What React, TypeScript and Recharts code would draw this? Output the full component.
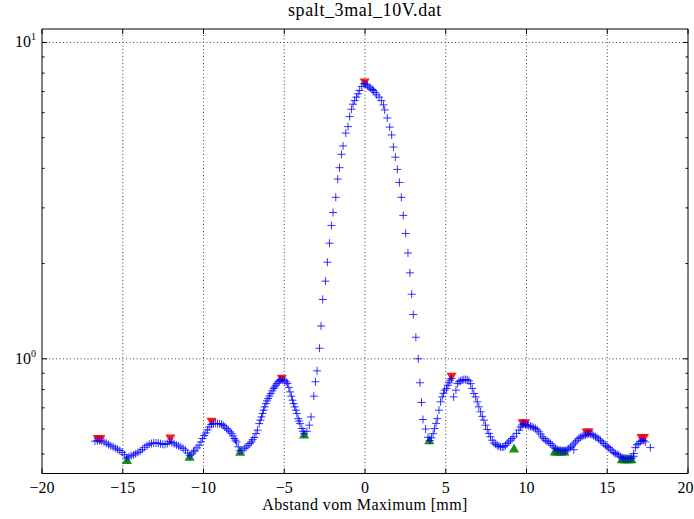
import { ReferenceArea, ReferenceLine, Scatter, ScatterChart, XAxis, YAxis } from "recharts";

// axis setup
const X_DOMAIN = [-20, 20];
const Y_DOMAIN = [0.434, 11.03];
const X_TICKS = [-20, -15, -10, -5, 0, 5, 10, 15, 20];
const X_GRID = [-15, -10, -5, 0, 5, 10, 15];
const Y_MAJOR = [1, 10];
const Y_TICKS = [0.5, 0.6, 0.7, 0.8, 0.9, 1, 2, 3, 4, 5, 6, 7, 8, 9, 10];

// measured intensity, left side lobes
const leftX = [
  -16.72, -16.58, -16.44, -16.3, -16.16, -16.02, -15.88, -15.74, -15.6, -15.46, -15.32, -15.18, -15.04, -14.9,
  -14.76, -14.62, -14.48, -14.34, -14.2, -14.06, -13.92, -13.78, -13.64, -13.5, -13.36, -13.22, -13.08, -12.94,
  -12.8, -12.66, -12.52, -12.38, -12.24, -12.1, -11.96, -11.82, -11.68, -11.54, -11.4, -11.26, -11.12, -10.98,
  -10.86, -10.72, -10.62, -10.53, -10.4, -10.27, -10.16, -10.06, -9.95, -9.85, -9.75, -9.65, -9.52, -9.38, -9.25,
  -9.13, -9.0, -8.88, -8.78, -8.68, -8.57, -8.47, -8.36, -8.26, -8.18, -8.1, -8.02, -7.95, -7.85, -7.75, -7.62,
  -7.48, -7.36, -7.24, -7.13, -7.03, -6.95, -6.86, -6.75, -6.65, -6.55, -6.48, -6.41, -6.34, -6.28, -6.21, -6.14,
  -6.07, -6.0, -5.92, -5.83, -5.75, -5.66, -5.59, -5.52, -5.45, -5.38, -5.29, -5.21, -5.09, -4.97, -4.88, -4.8,
  -4.72, -4.64, -4.56, -4.49, -4.42, -4.35, -4.28, -4.22, -4.14, -4.08, -4.02, -3.91, -3.84, -3.78,
];
const leftY = [
  0.549, 0.551, 0.552, 0.55, 0.546, 0.541, 0.536, 0.531, 0.527, 0.522, 0.518, 0.513, 0.506, 0.498,
  0.486, 0.49, 0.494, 0.497, 0.501, 0.506, 0.511, 0.517, 0.525, 0.532, 0.537, 0.54, 0.542, 0.542,
  0.541, 0.539, 0.537, 0.536, 0.54, 0.548, 0.544, 0.539, 0.534, 0.53, 0.526, 0.521, 0.514, 0.504,
  0.494, 0.5, 0.508, 0.514, 0.523, 0.533, 0.546, 0.56, 0.572, 0.583, 0.596, 0.609, 0.62, 0.624, 0.625,
  0.624, 0.623, 0.621, 0.616, 0.609, 0.602, 0.595, 0.588, 0.581, 0.571, 0.56, 0.553, 0.546, 0.527, 0.512, 0.514,
  0.52, 0.526, 0.533, 0.54, 0.546, 0.555, 0.564, 0.58, 0.595, 0.624, 0.64, 0.655, 0.672, 0.688, 0.705, 0.722,
  0.736, 0.749, 0.763, 0.777, 0.792, 0.806, 0.815, 0.825, 0.836, 0.846, 0.853, 0.86, 0.858, 0.852, 0.845, 0.836,
  0.812, 0.786, 0.762, 0.74, 0.722, 0.705, 0.688, 0.672, 0.647, 0.636, 0.624, 0.602, 0.59, 0.58,
];

// main maximum
const centerX = [
  -3.6, -3.45, -3.34, -3.17, -3.07, -2.97, -2.82, -2.72, -2.62, -2.45, -2.33, -2.2, -2.08, -1.98, -1.81, -1.69,
  -1.58, -1.46, -1.36, -1.19, -1.05, -0.95, -0.84, -0.74, -0.64, -0.53, -0.43, -0.33, -0.2, -0.06, 0.05, 0.15,
  0.25, 0.35, 0.45, 0.52, 0.62, 0.72, 0.87, 1.01, 1.14, 1.22, 1.38, 1.53, 1.65, 1.76, 1.88, 2.0, 2.13, 2.25,
  2.37, 2.52, 2.66, 2.78, 2.89, 2.99, 3.15, 3.3, 3.4, 3.5, 3.59, 3.75, 3.9,
];
const centerY = [
  0.59, 0.617, 0.655, 0.762, 0.846, 0.916, 1.08, 1.27, 1.54, 1.76, 2.02, 2.32, 2.64, 2.9, 3.24, 3.7,
  4.02, 4.43, 4.71, 5.17, 5.42, 5.83, 6.15, 6.38, 6.55, 6.72, 6.88, 7.05, 7.26, 7.4, 7.38, 7.3,
  7.22, 7.17, 7.1, 7.05, 6.95, 6.83, 6.72, 6.55, 6.35, 6.12, 5.77, 5.4, 5.1, 4.67, 4.34, 3.97, 3.61, 3.24,
  2.84, 2.49, 2.16, 1.87, 1.6, 1.38, 1.17, 1.0, 0.84, 0.728, 0.643, 0.6, 0.565,
];

// right side lobes
const rightX = [
  4.02, 4.12, 4.22, 4.31, 4.4, 4.48, 4.58, 4.68, 4.78, 4.86, 4.93, 5.05, 5.13, 5.2, 5.26, 5.36, 5.49, 5.63,
  5.72, 5.82, 5.92, 6.02, 6.12, 6.23, 6.33, 6.43, 6.54, 6.64, 6.74, 6.85, 6.95, 7.05, 7.16, 7.26, 7.36, 7.46,
  7.57, 7.67, 7.77, 7.88, 7.98, 8.09, 8.19, 8.29, 8.39, 8.5, 8.6, 8.7, 8.8, 8.9, 9.01, 9.11, 9.22, 9.38, 9.53,
  9.63, 9.72, 9.82, 9.94, 10.04, 10.14, 10.25, 10.35, 10.45, 10.56, 10.66, 10.76, 10.87, 10.97, 11.07, 11.17,
  11.28, 11.38, 11.48, 11.59, 11.69, 11.79, 11.9, 12.0, 12.1, 12.21, 12.31, 12.41, 12.52, 12.62, 12.72, 12.82,
  12.93, 12.93, 13.03, 13.13, 13.24, 13.34, 13.44, 13.55, 13.65, 13.75, 13.85, 13.96, 14.06, 14.16, 14.27, 14.37,
  14.47, 14.58, 14.68, 14.78, 14.89, 14.99, 15.09, 15.19, 15.3, 15.4, 15.5, 15.61, 15.71, 15.81, 15.92, 16.02,
  16.12, 16.23, 16.33, 16.43, 16.53, 16.64, 16.64, 16.74, 16.84, 16.95, 17.05, 17.15, 17.25, 17.36, 17.67,
];
const rightY = [
  0.552, 0.562, 0.58, 0.602, 0.625, 0.647, 0.688, 0.731, 0.758, 0.778, 0.796, 0.806, 0.825, 0.84, 0.856, 0.866,
  0.758, 0.796, 0.835, 0.846, 0.852, 0.856, 0.86, 0.86, 0.858, 0.852, 0.835, 0.806, 0.777, 0.758, 0.731, 0.705,
  0.68, 0.658, 0.64, 0.617, 0.598, 0.581, 0.567, 0.553, 0.542, 0.537, 0.533, 0.529, 0.527, 0.526, 0.527, 0.532,
  0.54, 0.546, 0.553, 0.56, 0.567, 0.581, 0.595, 0.609, 0.618, 0.624, 0.62, 0.617, 0.614, 0.612, 0.609, 0.606,
  0.602, 0.596, 0.588, 0.578, 0.567, 0.56, 0.553, 0.549, 0.546, 0.54, 0.533, 0.526, 0.52, 0.516, 0.514, 0.513,
  0.512, 0.512, 0.512, 0.516, 0.52, 0.525, 0.53, 0.538, 0.516, 0.546, 0.553, 0.56, 0.565, 0.569, 0.572, 0.574,
  0.578, 0.58, 0.579, 0.576, 0.572, 0.567, 0.563, 0.558, 0.552, 0.546, 0.54, 0.533, 0.528, 0.524, 0.518, 0.512,
  0.506, 0.502, 0.499, 0.496, 0.491, 0.487, 0.485, 0.484, 0.484, 0.484, 0.484, 0.486, 0.492, 0.502, 0.524, 0.535,
  0.54, 0.548, 0.553, 0.552, 0.546, 0.524,
];

// detected maxima / minima
const maxX = [-16.55, -16.38, -12.05, -9.5, -5.15, -0.02, 5.36, 9.76, 9.92, 13.72, 13.85, 17.12, 17.28];
const maxY = [0.558, 0.558, 0.56, 0.632, 0.865, 7.47, 0.877, 0.626, 0.626, 0.585, 0.585, 0.562, 0.562];
const minX = [-14.74, -10.86, -7.73, -3.77, 3.98, 9.23, 11.75, 11.9, 12.05, 12.2, 12.35, 15.9, 16.05, 16.2, 16.35, 16.5];
const minY = [0.479, 0.49, 0.508, 0.576, 0.553, 0.521, 0.509, 0.509, 0.509, 0.509, 0.509, 0.481, 0.481, 0.481, 0.481, 0.481];

const toPoints = (xs: number[], ys: number[]) => xs.map((x, i) => ({ x, y: ys[i] }));
const measured = [
  ...toPoints(leftX, leftY),
  ...toPoints(centerX, centerY),
  ...toPoints(rightX, rightY),
];
const maxima = toPoints(maxX, maxY);
const minima = toPoints(minX, minY);

const W = 694;
const H = 519;
const PLOT_W = 646;
const PLOT_H = 444.5;
const FONT = "'Liberation Serif', 'DejaVu Serif', serif";

const Plus = ({ cx, cy }: any) => (
  <g stroke="#0000ff" strokeWidth={1} strokeOpacity={0.8}>
    <line x1={cx - 4} x2={cx + 4} y1={cy} y2={cy} />
    <line x1={cx} x2={cx} y1={cy - 4} y2={cy + 4} />
  </g>
);

const Down = ({ cx, cy }: any) => (
  <polygon points={`${cx - 5},${cy - 4} ${cx + 5},${cy - 4} ${cx},${cy + 5}`} fill="#ff0000" fillOpacity={0.9} />
);

const Up = ({ cx, cy }: any) => (
  <polygon points={`${cx - 5},${cy + 4} ${cx + 5},${cy + 4} ${cx},${cy - 5}`} fill="#008000" fillOpacity={0.9} />
);

const fmt = (v: number) => (v < 0 ? "\u2212" + Math.abs(v) : String(v));

const XTick = ({ x, y, payload }: any) => {
  // the last label sits at the window edge, keep it inside
  const last = payload.value === X_DOMAIN[1];
  return (
    <g>
      <line x1={x} x2={x} y1={y} y2={y - 5} stroke="#000" />
      <line x1={x} x2={x} y1={y - PLOT_H} y2={y - PLOT_H + 5} stroke="#000" />
      <text
        x={last ? x + 5.5 : x}
        y={y + 19}
        textAnchor={last ? "end" : "middle"}
        fontSize={16}
        fontFamily={FONT}
        fill="#000"
      >
        {fmt(payload.value)}
      </text>
    </g>
  );
};

const YTick = ({ x, y, payload }: any) => {
  const major = Y_MAJOR.includes(payload.value);
  const len = major ? 5 : 2.5;
  return (
    <g>
      <line x1={x} x2={x + len} y1={y} y2={y} stroke="#000" />
      <line x1={x + PLOT_W} x2={x + PLOT_W - len} y1={y} y2={y} stroke="#000" />
      {major ? (
        <text x={x - 6} y={y + 5} textAnchor="end" fontSize={16} fontFamily={FONT} fill="#000">
          10
          <tspan dy={-7} fontSize={10}>
            {Math.round(Math.log10(payload.value))}
          </tspan>
        </text>
      ) : null}
    </g>
  );
};

export default function App() {
  return (
    <div style={{ position: "absolute", left: 0, top: 0, width: W, height: H, background: "#fff" }}>
      <div
        style={{
          position: "absolute",
          left: 42,
          width: PLOT_W,
          top: 0,
          textAlign: "center",
          fontFamily: FONT,
          fontSize: 18,
          letterSpacing: 0.6,
        }}
      >
        spalt_3mal_10V.dat
      </div>
      <ScatterChart width={W} height={H} margin={{ top: 29, right: 6, bottom: 0, left: 0 }}>
        <XAxis
          type="number"
          dataKey="x"
          domain={X_DOMAIN}
          ticks={X_TICKS}
          interval={0}
          height={45.5}
          axisLine={false}
          tickLine={false}
          tickSize={0}
          tickMargin={0}
          tick={<XTick />}
        />
        <YAxis
          type="number"
          dataKey="y"
          scale="log"
          domain={Y_DOMAIN}
          allowDataOverflow
          ticks={Y_TICKS}
          interval={0}
          width={42}
          axisLine={false}
          tickLine={false}
          tickSize={0}
          tickMargin={0}
          tick={<YTick />}
        />
        {X_GRID.map((v) => (
          <ReferenceLine key={"gx" + v} x={v} stroke="#444" strokeDasharray="1 2.5" />
        ))}
        {Y_MAJOR.map((v) => (
          <ReferenceLine key={"gy" + v} y={v} stroke="#444" strokeDasharray="1 2.5" />
        ))}
        <ReferenceArea x1={X_DOMAIN[0]} x2={X_DOMAIN[1]} y1={Y_DOMAIN[0]} y2={Y_DOMAIN[1]} fill="none" stroke="#000" strokeWidth={1} />
        <Scatter data={maxima} shape={<Down />} isAnimationActive={false} />
        <Scatter data={minima} shape={<Up />} isAnimationActive={false} />
        <Scatter data={measured} shape={<Plus />} isAnimationActive={false} />
      </ScatterChart>
      <div
        style={{
          position: "absolute",
          left: 42,
          width: PLOT_W,
          top: 496,
          textAlign: "center",
          fontFamily: FONT,
          fontSize: 16,
          letterSpacing: 0.4,
        }}
      >
        Abstand vom Maximum [mm]
      </div>
    </div>
  );
}
